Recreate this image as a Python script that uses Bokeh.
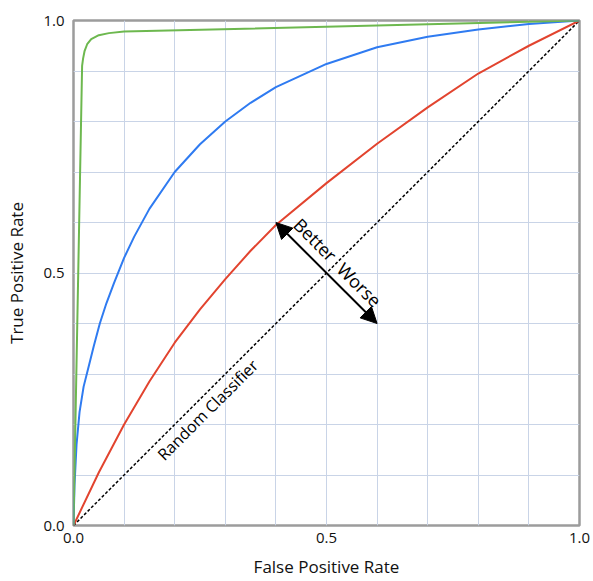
import math
from bokeh.plotting import figure
from bokeh.models import Range1d, FixedTicker, Arrow, NormalHead, Label, PrintfTickFormatter
from bokeh.embed import file_html
from bokeh.resources import INLINE

# ---- data ----
green_fpr = [0.0, 0.017, 0.019, 0.022, 0.027, 0.035, 0.05, 0.07, 0.1, 1.0]
green_tpr = [0.0, 0.91, 0.925, 0.94, 0.953, 0.963, 0.971, 0.975, 0.978, 1.0]

blue_fpr = [0.0, 0.002, 0.006, 0.012, 0.02, 0.03, 0.04, 0.052, 0.065, 0.08, 0.1, 0.12,
            0.15, 0.2, 0.25, 0.3, 0.35, 0.4, 0.5, 0.6, 0.7, 0.8, 0.9, 1.0]
blue_tpr = [0.0, 0.08, 0.16, 0.225, 0.275, 0.315, 0.355, 0.40, 0.44, 0.48, 0.53, 0.572,
            0.627, 0.70, 0.755, 0.80, 0.837, 0.868, 0.914, 0.947, 0.968, 0.982, 0.993, 1.0]

red_fpr = [0.0, 0.05, 0.1, 0.15, 0.2, 0.25, 0.3, 0.35, 0.4, 0.5, 0.6, 0.7, 0.8, 0.9, 1.0]
red_tpr = [0.0, 0.105, 0.2, 0.285, 0.362, 0.428, 0.488, 0.544, 0.595, 0.678, 0.756, 0.828,
           0.895, 0.95, 1.0]

random_fpr = [0.0, 1.0]
random_tpr = [0.0, 1.0]

axis_ticks = [0.0, 0.5, 1.0]
grid_ticks = [0.1, 0.2, 0.3, 0.4, 0.5, 0.6, 0.7, 0.8, 0.9]

arrow_start = (0.40, 0.60)
arrow_end = (0.60, 0.40)
better_pos = (0.478, 0.566)
worse_pos = (0.565, 0.477)
random_label_pos = (0.265, 0.229)

FONT = "Open Sans"

p = figure(width=593, height=581, output_backend="svg", toolbar_location=None,
           x_range=Range1d(0, 1), y_range=Range1d(0, 1),
           min_border_left=73, min_border_right=14, min_border_top=20, min_border_bottom=56,
           x_axis_label="False Positive Rate", y_axis_label="True Positive Rate")

p.outline_line_color = "#9c9c9c"
p.outline_line_width = 2.5
p.outline_line_alpha = 1.0

for ax in (p.xaxis[0], p.yaxis[0]):
    ax.ticker = FixedTicker(ticks=axis_ticks)
    ax.formatter = PrintfTickFormatter(format="%.1f")
    ax.axis_line_color = None
    ax.major_tick_line_color = None
    ax.minor_tick_line_color = None
    ax.major_tick_out = 0
    ax.major_tick_in = 0
    ax.minor_tick_out = 0
    ax.major_label_text_font = FONT
    ax.major_label_text_font_size = "15px"
    ax.major_label_text_color = "#111111"
    ax.axis_label_text_font = FONT
    ax.axis_label_text_font_size = "17px"
    ax.axis_label_text_font_style = "normal"
    ax.axis_label_text_color = "#111111"

p.xaxis[0].major_label_standoff = 7
p.xaxis[0].axis_label_standoff = 9
p.yaxis[0].major_label_standoff = 9
p.yaxis[0].axis_label_standoff = 12

for g in (p.xgrid[0], p.ygrid[0]):
    g.ticker = FixedTicker(ticks=grid_ticks)
    g.grid_line_color = "#c9d4e7"
    g.grid_line_width = 1

p.line(random_fpr, random_tpr, line_color="black", line_width=1.5, line_dash="3 2")
p.line(red_fpr, red_tpr, line_color="#e2442f", line_width=2)
p.line(blue_fpr, blue_tpr, line_color="#2f7bf1", line_width=2)
p.line(green_fpr, green_tpr, line_color="#6db84f", line_width=2)

p.add_layout(Arrow(x_start=arrow_start[0], y_start=arrow_start[1],
                   x_end=arrow_end[0], y_end=arrow_end[1],
                   line_color="black", line_width=2,
                   start=NormalHead(size=16, fill_color="black", line_color="black"),
                   end=NormalHead(size=16, fill_color="black", line_color="black")))

p.add_layout(Label(x=better_pos[0], y=better_pos[1], text="Better", angle=-math.pi / 4,
                   text_align="center", text_baseline="middle", text_font=FONT,
                   text_font_size="18px", text_color="black"))
p.add_layout(Label(x=worse_pos[0], y=worse_pos[1], text="Worse", angle=-math.pi / 4,
                   text_align="center", text_baseline="middle", text_font=FONT,
                   text_font_size="18px", text_color="black"))
p.add_layout(Label(x=random_label_pos[0], y=random_label_pos[1], text="Random Classifier",
                   angle=math.pi / 4, text_align="center", text_baseline="middle",
                   text_font=FONT, text_font_size="16px", text_color="black"))

open("out.html", "w").write(file_html(p, INLINE))
